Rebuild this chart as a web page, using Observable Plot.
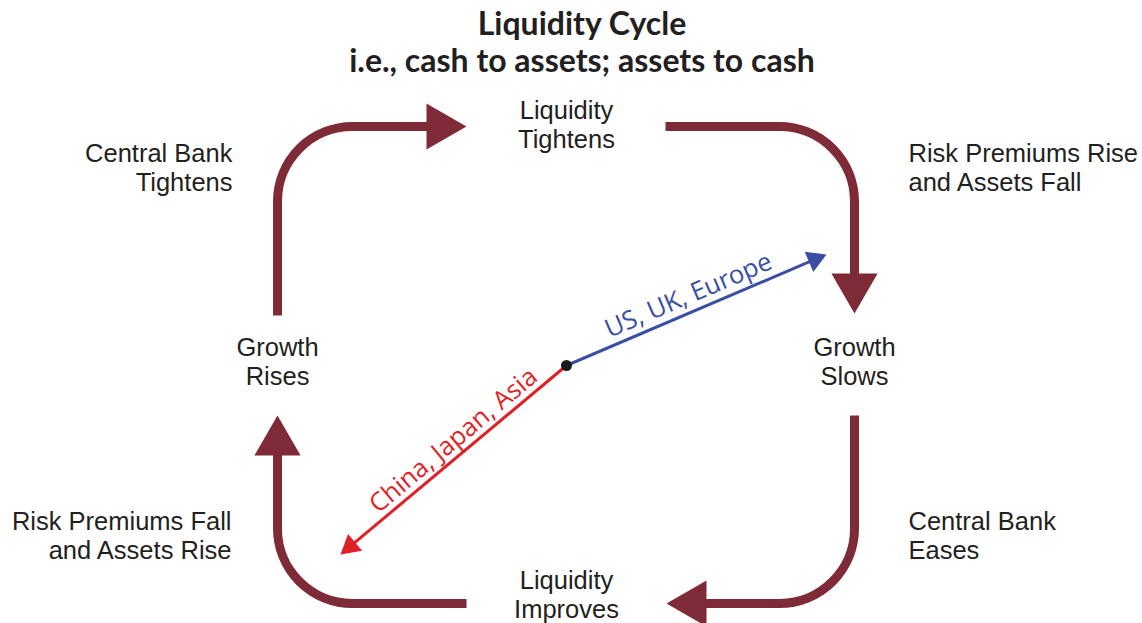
<!DOCTYPE html>
<html><head><meta charset="utf-8">
<script src="https://cdn.jsdelivr.net/npm/d3@7"></script>
<script src="https://cdn.jsdelivr.net/npm/@observablehq/plot@0.6"></script>
<style>
body{margin:0;background:#fff;}
#title{height:84px;box-sizing:border-box;padding-top:4px;text-align:center;font-family:Lato,"Open Sans",sans-serif;font-weight:700;font-size:32px;line-height:37px;color:#231f20;}
#title div{position:relative;left:11px;}
</style></head><body>
<div id="title"><div>Liquidity Cycle</div><div>i.e., cash to assets; assets to cash</div></div>
<div id="chart"></div>
<script>
// Cycle stage labels (clockwise from top)
const stageLabels = ["Liquidity\nTightens","Risk Premiums Rise\nand Assets Fall","Growth\nSlows","Central Bank\nEases","Liquidity\nImproves","Risk Premiums Fall\nand Assets Rise","Growth\nRises","Central Bank\nTightens"];
const stageX = [566, 908, 854, 908, 566, 231, 277, 232];
const stageY = [124, 167, 361, 535, 594, 535, 361, 167];
const stageAnchor = ["middle","start","middle","start","middle","end","middle","end"];

// The four cycle arrows: start, corner, tip
const arrowStart  = [[277,315],[665,126],[854,415],[466,603]];
const arrowCorner = [[277,126],[854,126],[854,603],[277,603]];
const arrowTip    = [[466,126],[854,313],[666,603],[277,415]];
const cornerRadius = 75;
const headLength = 40;

// Regional arrows from the hub
const hub = [566, 365];
const regionLabels = ["US, UK, Europe","China, Japan, Asia"];
const regionTips = [[826,254],[340,554]];
const regionColors = ["#3a4fa3","#e21f26"];
const regionLabelPos = [[688,295],[453,440]];
const regionHeadLength = 19;

const maroon = "#7f2b37";
const textColor = "#231f20";

// ---- build tables ----
const unit = (a, b) => { const dx = b[0]-a[0], dy = b[1]-a[1], l = Math.hypot(dx, dy); return [dx/l, dy/l]; };
const angleOf = d => Math.atan2(d[0], -d[1]) * 180 / Math.PI; // clockwise from up
const triR = L => { const k = L/3; return Math.sqrt(3*Math.sqrt(3)*k*k/Math.PI); };

const shafts = [], arcs = [], cycleHeads = [], regionHeads = [];
arrowStart.forEach((s, i) => {
  const c = arrowCorner[i], t = arrowTip[i];
  const d1 = unit(s, c), d2 = unit(c, t);
  const a0 = [c[0]-cornerRadius*d1[0], c[1]-cornerRadius*d1[1]];
  const a1 = [c[0]+cornerRadius*d2[0], c[1]+cornerRadius*d2[1]];
  const cen = [t[0]-headLength*2/3*d2[0], t[1]-headLength*2/3*d2[1]];
  shafts.push({x1:s[0],y1:s[1],x2:a0[0],y2:a0[1]});
  shafts.push({x1:a1[0],y1:a1[1],x2:cen[0],y2:cen[1]});
  arcs.push({x1:a0[0],y1:a0[1],x2:a1[0],y2:a1[1]});
  cycleHeads.push({x:cen[0],y:cen[1],rotate:angleOf(d2)});
});

const diag = regionTips.map((t, i) => {
  const d = unit(hub, t);
  const cen = [t[0]-regionHeadLength*2/3*d[0], t[1]-regionHeadLength*2/3*d[1]];
  regionHeads.push({x:cen[0],y:cen[1],rotate:angleOf(d),color:regionColors[i]});
  let ang = Math.atan2(d[1], d[0]) * 180 / Math.PI;
  if (ang > 90) ang -= 180; if (ang < -90) ang += 180;
  return {x1:hub[0],y1:hub[1],x2:cen[0],y2:cen[1],color:regionColors[i],
          label:regionLabels[i],lx:regionLabelPos[i][0],ly:regionLabelPos[i][1],rot:ang};
});

const stages = stageLabels.map((t, i) => ({text:t,x:stageX[i],y:stageY[i],anchor:stageAnchor[i]}));
const textMarks = ["start","middle","end"].map(a =>
  Plot.text(stages.filter(d => d.anchor === a), {x:"x", y:"y", text:"text", textAnchor:a,
    fontSize:25.5, lineHeight:1.13, fill:textColor, fontFamily:"'Liberation Sans', Arial, sans-serif"}));

const chart = Plot.plot({
  width: 1142, height: 539,
  marginTop: 0, marginRight: 0, marginBottom: 0, marginLeft: 0,
  x: {domain: [0, 1142], axis: null},
  y: {domain: [623, 84], axis: null},
  color: {type: "identity"},
  style: {fontFamily: "'Open Sans', sans-serif", background: "#fff", overflow: "visible"},
  marks: [
    Plot.link(shafts, {x1:"x1",y1:"y1",x2:"x2",y2:"y2",stroke:maroon,strokeWidth:9,strokeLinecap:"butt"}),
    Plot.arrow(arcs, {x1:"x1",y1:"y1",x2:"x2",y2:"y2",bend:45,headLength:0,stroke:maroon,strokeWidth:9}),
    Plot.dot(cycleHeads, {x:"x",y:"y",symbol:"triangle",r:triR(headLength),rotate:"rotate",fill:maroon,stroke:null}),
    Plot.link(diag, {x1:"x1",y1:"y1",x2:"x2",y2:"y2",stroke:"color",strokeWidth:3}),
    Plot.dot(regionHeads, {x:"x",y:"y",symbol:"triangle",r:triR(regionHeadLength),rotate:"rotate",fill:"color",stroke:null}),
    Plot.dot([hub], {x:d=>d[0],y:d=>d[1],r:5.5,fill:"#1a1a1a"}),
    Plot.text(diag, {x:"lx",y:"ly",text:"label",rotate:"rot",fill:"color",fontSize:25.5}),
    ...textMarks
  ]
});
document.getElementById("chart").appendChild(chart);
</script>
</body></html>
